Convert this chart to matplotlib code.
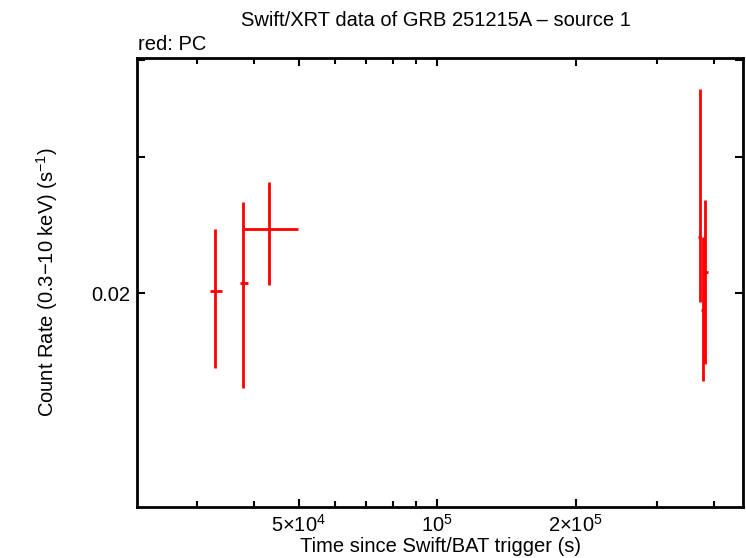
import matplotlib
matplotlib.use('Agg')
import matplotlib.pyplot as plt
from matplotlib.ticker import FixedLocator, FixedFormatter, NullLocator

# Datos de la curva de luz (PC)
t = [3.28e4, 3.79e4, 4.30e4, 3.72e5, 3.776e5, 3.824e5]
t_lo = [3.20e4, 3.73e4, 3.79e4, 3.692e5, 3.749e5, 3.776e5]
t_hi = [3.40e4, 3.88e4, 4.99e4, 3.749e5, 3.80e5, 3.886e5]
rate = [0.0201, 0.0206, 0.0242, 0.0236, 0.0190, 0.0213]
rate_lo = [0.0160, 0.0151, 0.0205, 0.0195, 0.0154, 0.0162]
rate_hi = [0.0242, 0.0262, 0.0278, 0.0367, 0.0236, 0.0264]

xticks = [5e4, 1e5, 2e5]
xtick_labels = [r'$5{\times}10^4$', r'$10^5$', r'$2{\times}10^5$']
xminor = [3e4, 4e4, 6e4, 7e4, 8e4, 9e4, 3e5, 4e5]
yticks = [0.02, 0.03, 0.04]
ytick_labels = ['0.02', '', '']

plt.rcParams['font.family'] = ['Liberation Sans', 'DejaVu Sans']
plt.rcParams['mathtext.fontset'] = 'custom'
plt.rcParams['mathtext.rm'] = 'Liberation Sans'
plt.rcParams['mathtext.it'] = 'Liberation Sans'

fig = plt.figure(figsize=(7.46, 5.58), dpi=100)
ax = fig.add_axes([0.1843, 0.0914, 0.8117, 0.8047])

xerr = [[a - b for a, b in zip(t, t_lo)], [b - a for a, b in zip(t, t_hi)]]
yerr = [[a - b for a, b in zip(rate, rate_lo)], [b - a for a, b in zip(rate, rate_hi)]]
ax.errorbar(t, rate, xerr=xerr, yerr=yerr, fmt='none', ecolor='#ff0000',
            elinewidth=2, capsize=0)

ax.set_xscale('log')
ax.set_yscale('log')
ax.set_xlim(2.23e4, 4.62e5)
ax.set_ylim(0.0106, 0.0402)

ax.xaxis.set_major_locator(FixedLocator(xticks))
ax.xaxis.set_major_formatter(FixedFormatter(xtick_labels))
ax.xaxis.set_minor_locator(FixedLocator(xminor))
ax.xaxis.set_minor_formatter(FixedFormatter([''] * len(xminor)))
ax.yaxis.set_major_locator(FixedLocator(yticks))
ax.yaxis.set_major_formatter(FixedFormatter(ytick_labels))
ax.yaxis.set_minor_locator(NullLocator())

ax.tick_params(which='major', direction='in', top=True, right=True,
               length=6, width=1.5, labelsize=14.5, pad=5)
ax.tick_params(which='minor', direction='in', top=True, right=True,
               length=4, width=1.5)
for s in ax.spines.values():
    s.set_linewidth(2)

ax.set_xlabel('Time since Swift/BAT trigger (s)', fontsize=14.5, labelpad=1)
ax.set_ylabel(r'Count Rate (0.3$-$10 keV) (s$^{-1}$)', fontsize=14.5, labelpad=23)
fig.text(0.585, 0.964, 'Swift/XRT data of GRB 251215A \u2013 source 1',
         ha='center', va='center', fontsize=14.5)
fig.text(0.185, 0.921, 'red: PC', ha='left', va='center', fontsize=14.5)

fig.savefig('out.png', dpi=100)
